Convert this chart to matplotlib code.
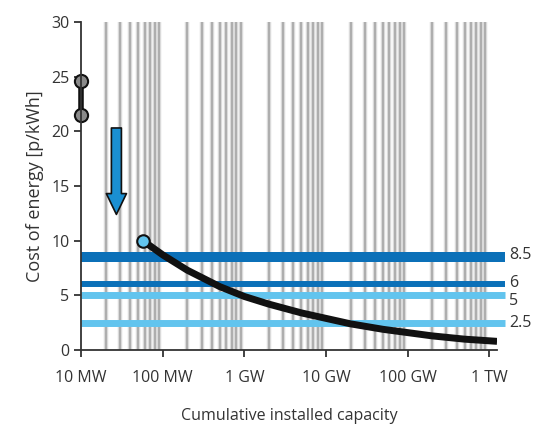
import matplotlib.pyplot as plt
import numpy as np

plt.rcParams['font.family'] = ['Open Sans', 'DejaVu Sans']

# capacity in MW, cost in p/kWh
curve_mw = [57, 100, 200, 500, 1000, 2000, 5000, 10000, 20000, 50000,
            100000, 200000, 500000, 1000000, 1250000]
curve_cost = [10.0, 8.7, 7.3, 5.8, 4.9, 4.2, 3.4, 2.9, 2.4, 1.9,
              1.6, 1.3, 1.0, 0.85, 0.8]

range_mw = [10, 10]
range_cost = [24.6, 21.5]

arrow_mw = 27
arrow_from = 20.3
arrow_to = 12.4

levels = [8.5, 6, 5, 2.5]
level_labels = ['8.5', '6', '5', '2.5']
level_label_y = [8.7, 6.1, 4.5, 2.5]
level_colors = ['#0b70b8', '#0b70b8', '#62c4ee', '#62c4ee']
level_widths = [7.2, 4.3, 5.0, 5.0]

xtick_vals = [10, 100, 1000, 10000, 100000, 1000000]
xtick_labels = ['10 MW', '100 MW', '1 GW', '10 GW', '100 GW', '1 TW']

fig = plt.figure(figsize=(5.45, 4.28), dpi=100)
ax = fig.add_axes([0.149, 0.182, 0.763, 0.767])
ax.set_xscale('log')
xmin, xmax = 10, 1.25e6
ax.set_xlim(xmin, xmax)
ax.set_ylim(0, 30)

# vertical grey lines at minor decades
for dec in [10, 100, 1000, 10000, 100000]:
    for m in range(2, 10):
        ax.axvline(dec * m, color='#dadada', lw=3.2, zorder=1)
        ax.axvline(dec * m, color='#a6a6a6', lw=1.2, zorder=1)

# horizontal cost levels
for y, c, w, lab, ly in zip(levels, level_colors, level_widths, level_labels, level_label_y):
    ax.plot([xmin, 1.55e6], [y, y], color=c, lw=w, solid_capstyle='butt',
            clip_on=False, zorder=2)
    ax.text(1.75e6, ly, lab, va='center', ha='left', fontsize=11.5, color='#333333')

# learning curve
ax.plot(curve_mw, curve_cost, color='#111111', lw=5, solid_capstyle='butt', zorder=3)
ax.plot(curve_mw[0], curve_cost[0], 'o', ms=9, mfc='#62c4ee', mec='#111111', mew=1.5, zorder=4)

# current cost range
ax.plot(range_mw, range_cost, color='#111111', lw=4, clip_on=False, zorder=4)
ax.plot(range_mw, range_cost, 'o', ms=9.5, mfc='#8a8a8a', mec='#111111', mew=1.5,
        clip_on=False, zorder=5)

ax.annotate('', xy=(arrow_mw, arrow_to), xytext=(arrow_mw, arrow_from),
            arrowprops=dict(arrowstyle='simple,tail_width=0.72,head_width=1.45,head_length=1.5',
                            fc='#1a8fd2', ec='#111111', lw=1.2, shrinkA=0, shrinkB=0),
            zorder=4)

ax.set_xticks(xtick_vals)
ax.set_xticklabels(xtick_labels)
ax.xaxis.set_minor_locator(plt.NullLocator())
ax.set_yticks([0, 5, 10, 15, 20, 25, 30])

for s in ['top', 'right']:
    ax.spines[s].set_visible(False)
for s in ['left', 'bottom']:
    ax.spines[s].set_color('#333333')
    ax.spines[s].set_linewidth(1.3)
    ax.spines[s].set_zorder(6)
ax.tick_params(colors='#333333', labelsize=11.5, length=5, width=1.3)
ax.tick_params(axis='x', pad=9)

ax.set_ylabel('Cost of energy [p/kWh]', fontsize=13, color='#333333', labelpad=5)
ax.set_xlabel('Cumulative installed capacity', fontsize=11.5, color='#333333', labelpad=16)

fig.savefig('out.png', dpi=100)
